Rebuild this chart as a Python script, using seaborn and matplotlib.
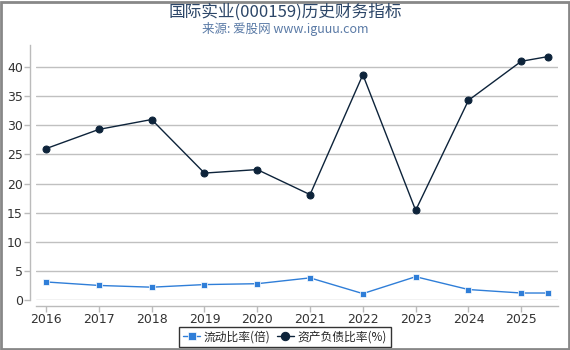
import matplotlib
matplotlib.use("Agg")
import matplotlib.pyplot as plt
import seaborn as sns
import pandas as pd
from matplotlib.patches import Rectangle

periods = [2016, 2017, 2018, 2019, 2020, 2021, 2022, 2023, 2024, 2025, 2025.5]
current_ratio = [3.1, 2.5, 2.2, 2.65, 2.8, 3.8, 1.1, 4.0, 1.8, 1.2, 1.2]
debt_ratio = [26.0, 29.3, 31.0, 21.8, 22.4, 18.1, 38.7, 15.4, 34.3, 41.0, 41.8]
year_ticks = [2016, 2017, 2018, 2019, 2020, 2021, 2022, 2023, 2024, 2025]
y_ticks = [0, 5, 10, 15, 20, 25, 30, 35, 40]
name_cr = "流动比率(倍)"
name_dr = "资产负债比率(%)"

sns.set_theme(style="white")
plt.rcParams['font.family'] = ['Noto Sans CJK SC', 'DejaVu Sans']

df = pd.DataFrame({"period": periods, "cr": current_ratio, "dr": debt_ratio})

fig = plt.figure(figsize=(5.7, 3.5), dpi=100)
ax = fig.add_axes([36/570, 1 - 300/350, (557.7 - 36)/570, (300 - 45)/350])

blue = "#2f7ed8"
navy = "#0d233a"
sns.lineplot(data=df, x="period", y="cr", ax=ax, color=blue, marker="s",
             markersize=4.8, markeredgecolor="white", markeredgewidth=0.5,
             linewidth=1.0, label=name_cr)
sns.lineplot(data=df, x="period", y="dr", ax=ax, color=navy, marker="o",
             markersize=5, markeredgecolor=navy, linewidth=1.0, label=name_dr)

ax.set_xlim(2015.81, 2025.69)
ax.set_ylim(0, 43.8)
ax.set_xticks(year_ticks)
ax.set_xticklabels([str(y) for y in year_ticks])
ax.set_yticks(y_ticks)
ax.set_xlabel("")
ax.set_ylabel("")
ax.grid(axis="y", color="#c0c0c0", linewidth=1.0)
ax.grid(axis="x", visible=False)
for s in ["top", "right"]:
    ax.spines[s].set_visible(False)
for s in ["left", "bottom"]:
    ax.spines[s].set_visible(True)
    ax.spines[s].set_color("#bbbbbb")
    ax.spines[s].set_linewidth(1.0)
    ax.spines[s].set_position(("outward", 4))
ax.tick_params(axis="both", which="both", length=4, width=1, color="#bbbbbb",
               labelsize=9, labelcolor="#333333", pad=1.5,
               bottom=True, left=True)
for lab in ax.get_xticklabels() + ax.get_yticklabels():
    lab.set_family(['DejaVu Sans'])

leg = ax.legend(loc="upper center", bbox_to_anchor=(0.5, 1 - 321/350),
                bbox_transform=fig.transFigure, ncol=2,
                frameon=True, fancybox=False, fontsize=8.5, handlelength=1.5,
                handletextpad=0.3, columnspacing=0.5, borderpad=0.3,
                markerscale=1.2)
leg.get_frame().set_edgecolor("#000000")
leg.get_frame().set_linewidth(1.0)

fig.text(0.5, 1 - 12/350, "国际实业(000159)历史财务指标", ha="center", va="center",
         fontsize=12, color="#2c4668")
fig.text(0.5, 1 - 29/350, "来源: 爱股网 www.iguuu.com", ha="center", va="center",
         fontsize=9, color="#5a7aa6")

fig.patches.append(Rectangle((0.5/570, 1.5/350), 568/570, 347/350, transform=fig.transFigure,
                             fill=False, edgecolor="#888888", linewidth=2))

fig.savefig("out.png", dpi=100)
